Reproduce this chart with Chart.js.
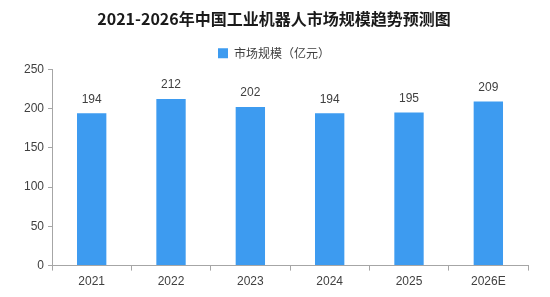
<!DOCTYPE html>
<html>
<head>
<meta charset="utf-8">
<script src="https://cdn.jsdelivr.net/npm/chart.js@4"></script>
<style>
    html, body { margin: 0; padding: 0; background: #fff; }
    #wrap { width: 550px; height: 297px; position: relative; }
</style>
</head>
<body>
<div id="wrap"><canvas id="marketChart"></canvas></div>
<script>
// Chart data
const years = ['2021', '2022', '2023', '2024', '2025', '2026E'];
const marketSize = [194, 212, 202, 194, 195, 209];
const yTicks = [0, 50, 100, 150, 200, 250];

const barColor = '#3d9bf0';
const axisColor = '#a6a6a6';
const textColor = '#404040';

// draws the value above each bar
const valueLabels = {
    id: 'valueLabels',
    afterDatasetsDraw(chart) {
        const ctx = chart.ctx;
        const meta = chart.getDatasetMeta(0);
        ctx.save();
        ctx.font = '12px "Liberation Sans", sans-serif';
        ctx.fillStyle = textColor;
        ctx.textAlign = 'center';
        ctx.textBaseline = 'bottom';
        meta.data.forEach((bar, i) => {
            ctx.fillText(marketSize[i], bar.x, bar.y - 8);
        });
        ctx.restore();
    }
};

new Chart(document.getElementById('marketChart'), {
    type: 'bar',
    data: {
        labels: years,
        datasets: [{
            label: '市场规模（亿元）',
            data: marketSize,
            backgroundColor: barColor,
            borderWidth: 0,
            barPercentage: 0.37,
            categoryPercentage: 1
        }]
    },
    options: {
        responsive: true,
        maintainAspectRatio: false,
        animation: false,
        layout: { padding: { left: 20, right: 22, top: 3, bottom: 4 } },
        plugins: {
            title: {
                display: true,
                text: '2021-2026年中国工业机器人市场规模趋势预测图',
                color: '#1a1a1a',
                font: { size: 16, weight: 'bold', family: '"Noto Sans CJK SC", sans-serif' },
                padding: { top: 6, bottom: 9 }
            },
            legend: {
                display: true,
                labels: {
                    color: textColor,
                    boxWidth: 10,
                    boxHeight: 10,
                    font: { size: 12, family: '"Noto Sans CJK SC", sans-serif' }
                }
            },
            tooltip: { enabled: false }
        },
        scales: {
            y: {
                min: 0,
                max: 250,
                afterBuildTicks: axis => { axis.ticks = yTicks.map(v => ({ value: v })); },
                grid: {
                    drawOnChartArea: false,
                    drawTicks: true,
                    tickLength: 4,
                    color: axisColor
                },
                border: { color: axisColor },
                ticks: {
                    color: textColor,
                    padding: 4,
                    font: { size: 12, family: '"Liberation Sans", sans-serif' }
                }
            },
            x: {
                offset: true,
                grid: {
                    drawOnChartArea: false,
                    offset: true,
                    tickLength: 5,
                    color: axisColor
                },
                border: { color: axisColor },
                ticks: {
                    color: textColor,
                    padding: 4,
                    font: { size: 12, family: '"Liberation Sans", sans-serif' }
                }
            }
        }
    },
    plugins: [valueLabels]
});
</script>
</body>
</html>
